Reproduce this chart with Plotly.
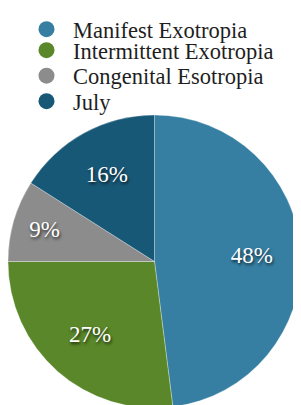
import plotly.graph_objects as go

categories = ["Manifest Exotropia", "Intermittent Exotropia", "Congenital Esotropia", "July"]
values = [48, 27, 9, 16]
colors = ["#367fa3", "#5a8729", "#8c8c8c", "#185877"]

SERIF = "Liberation Serif, Times New Roman, DejaVu Serif, serif"

fig = go.Figure()
# filled slices
fig.add_trace(go.Pie(
    labels=categories,
    values=values,
    sort=False,
    direction="clockwise",
    rotation=0,
    marker=dict(colors=colors, line=dict(color="rgba(255,255,255,0.6)", width=0.5)),
    textinfo="none",
    showlegend=False,
    hoverinfo="label+percent",
))
# transparent ring carrying the percentage labels
fig.add_trace(go.Pie(
    labels=categories,
    values=values,
    sort=False,
    direction="clockwise",
    rotation=0,
    hole=0.33,
    marker=dict(colors=["rgba(0,0,0,0)"] * 4, line=dict(width=0)),
    textinfo="percent",
    texttemplate="%{percent:.0%}",
    textposition="inside",
    insidetextorientation="horizontal",
    textfont=dict(family=SERIF, size=23, color="white",
                  shadow="1px 2px 3px rgba(0,0,0,0.7)"),
    showlegend=False,
    hoverinfo="skip",
))
legend_names = ["legend", "legend2", "legend3", "legend4"]
legend_top_px = [-5.5, 21, 46.5, 72]
for name, col, lg in zip(categories, colors, legend_names):
    fig.add_trace(go.Scatter(
        x=[None], y=[None], mode="markers", name=name,
        marker=dict(symbol="circle", size=16, color=col),
        showlegend=True, legend=lg,
    ))

legend_style = dict(
    xref="container", yref="container",
    xanchor="left", yanchor="top",
    font=dict(family=SERIF, size=22.5, color="#1e1e1e"),
    itemwidth=43,
    bgcolor="rgba(0,0,0,0)",
)
layout_legends = {}
for lg, top in zip(legend_names, legend_top_px):
    layout_legends[lg] = dict(x=12 / 301, y=(405 - top) / 405, **legend_style)

fig.update_layout(
    width=301, height=405,
    margin=dict(l=0, r=8, t=107, b=5, autoexpand=False),
    paper_bgcolor="white", plot_bgcolor="white",
    xaxis=dict(visible=False), yaxis=dict(visible=False),
    font=dict(family=SERIF),
    **layout_legends,
)
fig.write_html("out.html")
